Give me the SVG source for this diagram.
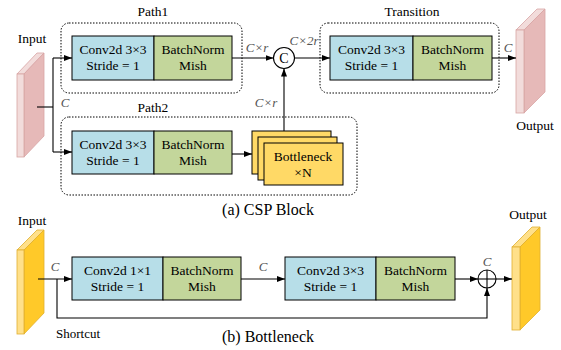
<svg xmlns="http://www.w3.org/2000/svg" width="561" height="350" viewBox="0 0 561 350" font-family="'Liberation Serif', 'Times New Roman', serif">
<style>
text{font-family:'Liberation Serif','Times New Roman',serif;fill:#000}
.t{font-size:13.5px;text-anchor:middle}
.cap{font-size:16px;text-anchor:middle}
.lbl{font-size:13px;font-style:italic;fill:#555;text-anchor:middle}
.conv{fill:#B7DEE8;stroke:#000;stroke-width:1}
.bn{fill:#C3D69B;stroke:#000;stroke-width:1}
.bot{fill:#FFD966;stroke:#000;stroke-width:1}
.grp{fill:none;stroke:#000;stroke-width:1;stroke-dasharray:1.5 1.5}
.ln{fill:none;stroke:#000;stroke-width:1.1}
.pf{fill:#F2DCDB;stroke:#D8A5A4;stroke-width:0.8}
.ps{fill:#E6B9B8;stroke:#D8A5A4;stroke-width:0.8}
.yf{fill:#FFE08A;stroke:#E0B030;stroke-width:0.8}
.ys{fill:#FFC929;stroke:#E0B030;stroke-width:0.8}
</style>
<defs>
<marker id="arr" markerWidth="8" markerHeight="6" refX="8" refY="3" orient="auto" markerUnits="userSpaceOnUse">
<path d="M0,0 L8,3 L0,6 z" fill="#000"/>
</marker>
</defs>

<!-- (a) CSP Block -->
<g id="input-a">
<text class="t" x="32" y="43">Input</text>
<polygon class="pf" points="17,74 37,53 44,53 24,74"/>
<polygon class="ps" points="24,74 44,53 44,136 24,157"/>
<rect class="pf" x="17" y="74" width="7" height="83"/>
</g>

<g id="path1">
<rect class="grp" x="61" y="23" width="181" height="70" rx="8"/>
<text class="t" x="153" y="16">Path1</text>
<rect class="conv" x="72" y="36" width="82" height="44"/>
<rect class="bn" x="154" y="36" width="78" height="44"/>
<text class="t" x="113" y="54">Conv2d 3×3</text>
<text class="t" x="113" y="70">Stride = 1</text>
<text class="t" x="193" y="54">BatchNorm</text>
<text class="t" x="193" y="70">Mish</text>
</g>

<g id="path2">
<rect class="grp" x="61" y="117" width="296" height="78" rx="8"/>
<text class="t" x="153" y="112">Path2</text>
<rect class="conv" x="72" y="131" width="82" height="43"/>
<rect class="bn" x="154" y="131" width="78" height="43"/>
<text class="t" x="113" y="149">Conv2d 3×3</text>
<text class="t" x="113" y="165">Stride = 1</text>
<text class="t" x="193" y="149">BatchNorm</text>
<text class="t" x="193" y="165">Mish</text>
</g>

<g id="bottleneck-stack">
<rect class="bot" x="252" y="131" width="79" height="43"/>
<rect class="bot" x="258" y="137" width="79" height="43"/>
<rect class="bot" x="264" y="143" width="79" height="42"/>
<text class="t" x="303" y="161">Bottleneck</text>
<text class="t" x="303" y="177">×N</text>
</g>

<g id="concat">
<circle cx="284" cy="58" r="10.5" fill="#fff" stroke="#000" stroke-width="1.1"/>
<text class="t" x="284" y="63" style="font-size:14px">C</text>
</g>

<g id="transition">
<rect class="grp" x="320" y="23" width="179" height="70" rx="8"/>
<text class="t" x="412" y="16">Transition</text>
<rect class="conv" x="330" y="36" width="83" height="44"/>
<rect class="bn" x="413" y="36" width="79" height="44"/>
<text class="t" x="371.5" y="54">Conv2d 3×3</text>
<text class="t" x="371.5" y="70">Stride = 1</text>
<text class="t" x="452.5" y="54">BatchNorm</text>
<text class="t" x="452.5" y="70">Mish</text>
</g>

<g id="output-a">
<polygon class="pf" points="516,30 537,9 545,9 524,30"/>
<polygon class="ps" points="524,30 545,9 545,92 524,113"/>
<rect class="pf" x="516" y="30" width="8" height="83"/>
<text class="t" x="535" y="130">Output</text>
</g>

<text class="cap" x="268" y="215">(a) CSP Block</text>

<!-- (b) Bottleneck -->
<g id="input-b">
<text class="t" x="32" y="225">Input</text>
<polygon class="yf" points="17,250 37,230 44,230 24,250"/>
<polygon class="ys" points="24,250 44,230 44,313 24,334"/>
<rect class="yf" x="17" y="250" width="7" height="84"/>
</g>

<g id="conv1x1">
<rect class="conv" x="72" y="257" width="91" height="43"/>
<rect class="bn" x="163" y="257" width="78" height="43"/>
<text class="t" x="117.5" y="275">Conv2d 1×1</text>
<text class="t" x="117.5" y="291">Stride = 1</text>
<text class="t" x="202" y="275">BatchNorm</text>
<text class="t" x="202" y="291">Mish</text>
</g>

<g id="conv3x3">
<rect class="conv" x="285" y="257" width="91" height="43"/>
<rect class="bn" x="376" y="257" width="79" height="43"/>
<text class="t" x="330.5" y="275">Conv2d 3×3</text>
<text class="t" x="330.5" y="291">Stride = 1</text>
<text class="t" x="415.5" y="275">BatchNorm</text>
<text class="t" x="415.5" y="291">Mish</text>
</g>

<g id="add">
<circle cx="487" cy="279" r="9" fill="#fff" stroke="#000" stroke-width="1.1"/>
<line x1="478" y1="279" x2="496" y2="279" stroke="#000" stroke-width="1.1"/>
<line x1="487" y1="270" x2="487" y2="288" stroke="#000" stroke-width="1.1"/>
</g>

<g id="output-b">
<text class="t" x="528" y="219">Output</text>
<polygon class="yf" points="512,247 532,227 540,227 520,247"/>
<polygon class="ys" points="520,247 540,227 540,310 520,330"/>
<rect class="yf" x="512" y="247" width="8" height="83"/>
</g>

<text class="cap" x="268" y="342">(b) Bottleneck</text>

<!-- connectors -->
<g id="connectors">
<path class="ln" d="M37,107 H53"/>
<path class="ln" d="M53,58 V152"/>
<path class="ln" d="M53,58 H72" marker-end="url(#arr)"/>
<path class="ln" d="M53,152 H72" marker-end="url(#arr)"/>
<path class="ln" d="M232,58 H273.5" marker-end="url(#arr)"/>
<path class="ln" d="M284,131 V68.5" marker-end="url(#arr)"/>
<path class="ln" d="M294.5,58 H330" marker-end="url(#arr)"/>
<path class="ln" d="M232,154 H252" marker-end="url(#arr)"/>
<path class="ln" d="M492,58 H516" marker-end="url(#arr)"/>

<path class="ln" d="M38,279 H72" marker-end="url(#arr)"/>
<path class="ln" d="M57,279 V318 H487 V288" marker-end="url(#arr)"/>
<path class="ln" d="M241,279 H285" marker-end="url(#arr)"/>
<path class="ln" d="M455,279 H478" marker-end="url(#arr)"/>
<path class="ln" d="M496,279 H512" marker-end="url(#arr)"/>
</g>

<g id="labels">
<text class="lbl" x="65" y="107">C</text>
<text class="lbl" x="257" y="52">C×r</text>
<text class="lbl" x="304" y="45">C×2r</text>
<text class="lbl" x="266" y="107">C×r</text>
<text class="lbl" x="508" y="52">C</text>
<text class="lbl" x="55" y="271">C</text>
<text class="lbl" x="263" y="271">C</text>
<text class="lbl" x="487" y="266">C</text>
<text class="t" x="78" y="338" style="font-size:13px">Shortcut</text>
</g>
</svg>
